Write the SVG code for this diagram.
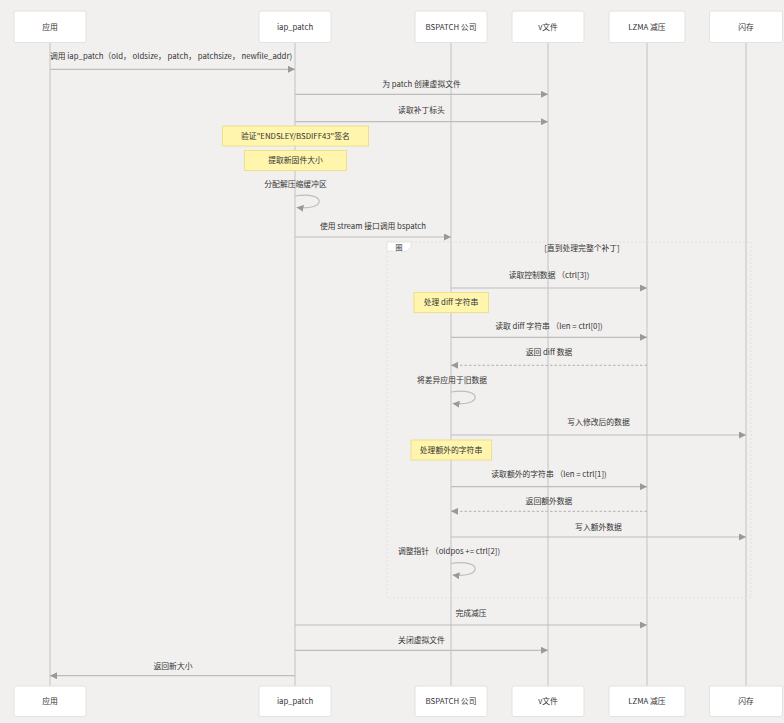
<svg xmlns="http://www.w3.org/2000/svg" width="784" height="723" viewBox="0 0 784 723">
<style>
text{font-family:"Noto Sans CJK SC","Noto Sans",sans-serif;font-size:7.8px;fill:#333;text-anchor:middle}
.actor{fill:#fff;stroke:#e2e2e2;stroke-width:1}
.life{stroke:#d2d2d2;stroke-width:1.5}
.msg{stroke:#bdbdbd;stroke-width:1.2;fill:none}
.dash{stroke:#bdbdbd;stroke-width:1.2;fill:none;stroke-dasharray:2.5,2}
.note{fill:#fff5ad;stroke:#ece08a;stroke-width:1}
.loop{fill:none;stroke:#e0e0e0;stroke-width:1;stroke-dasharray:2,2}
</style>
<defs>
<marker id="ah" viewBox="0 0 10 10" refX="10" refY="5" markerWidth="7" markerHeight="7" markerUnits="userSpaceOnUse" orient="auto">
<path d="M0,0 L10,5 L0,10 z" fill="#999"/>
</marker>
</defs>
<rect width="784" height="723" fill="#f2f0ef"/>
<g id="lifelines">
<line class="life" x1="50" y1="42" x2="50" y2="686"/>
<line class="life" x1="295" y1="42" x2="295" y2="686"/>
<line class="life" x1="451" y1="42" x2="451" y2="686"/>
<line class="life" x1="548" y1="42" x2="548" y2="686"/>
<line class="life" x1="647" y1="42" x2="647" y2="686"/>
<line class="life" x1="746" y1="42" x2="746" y2="686"/>
</g>
<g id="actor-app"><rect class="actor" x="14" y="11" width="72" height="31.5" rx="2"/><text x="50" y="29.5">应用</text><rect class="actor" x="14" y="686" width="72" height="30.5" rx="2"/><text x="50" y="704">应用</text></g>
<g id="actor-iap"><rect class="actor" x="259" y="11" width="72" height="31.5" rx="2"/><text x="295" y="29.5">iap_patch</text><rect class="actor" x="259" y="686" width="72" height="30.5" rx="2"/><text x="295" y="704">iap_patch</text></g>
<g id="actor-bspatch"><rect class="actor" x="415" y="11" width="72" height="31.5" rx="2"/><text x="451" y="29.5">BSPATCH 公司</text><rect class="actor" x="415" y="686" width="72" height="30.5" rx="2"/><text x="451" y="704">BSPATCH 公司</text></g>
<g id="actor-vfile"><rect class="actor" x="512" y="11" width="72" height="31.5" rx="2"/><text x="548" y="29.5">v文件</text><rect class="actor" x="512" y="686" width="72" height="30.5" rx="2"/><text x="548" y="704">v文件</text></g>
<g id="actor-lzma"><rect class="actor" x="609" y="11" width="76" height="31.5" rx="2"/><text x="647" y="29.5">LZMA 减压</text><rect class="actor" x="609" y="686" width="76" height="30.5" rx="2"/><text x="647" y="704">LZMA 减压</text></g>
<g id="actor-flash"><rect class="actor" x="709.5" y="11" width="73" height="31.5" rx="2"/><text x="746" y="29.5">闪存</text><rect class="actor" x="709.5" y="686" width="73" height="30.5" rx="2"/><text x="746" y="704">闪存</text></g>
<g id="loop-block">
<rect class="loop" x="387" y="242" width="364" height="356"/>
<path d="M387,242 H411 V247 L407,251 H387 Z" fill="#fff" stroke="#e0e0e0" stroke-width="0.8"/>
<text x="399" y="249.5" style="font-size:7px">圈</text>
<text x="582" y="251">[直到处理完整个补丁]</text>
</g>
<g id="notes">
<g id="note-verify"><rect class="note" x="222.5" y="126" width="146" height="20"/><text x="295.5" y="138.8">验证"ENDSLEY/BSDIFF43"签名</text></g>
<g id="note-size"><rect class="note" x="244.5" y="150.5" width="102" height="20"/><text x="295.5" y="163.3">提取新固件大小</text></g>
<g id="note-diff"><rect class="note" x="414" y="292.5" width="74.5" height="20"/><text x="451" y="305.3">处理 diff 字符串</text></g>
<g id="note-extra"><rect class="note" x="411" y="440" width="80.5" height="20"/><text x="451" y="452.8">处理额外的字符串</text></g>
</g>
<g id="connectors">
<line class="msg" x1="50" y1="69.3" x2="295" y2="69.3" marker-end="url(#ah)"/>
<text x="171" y="59">调用 iap_patch（old， oldsize， patch， patchsize， newfile_addr)</text>
<line class="msg" x1="295" y1="94.3" x2="548" y2="94.3" marker-end="url(#ah)"/>
<text x="421.5" y="87">为 patch 创建虚拟文件</text>
<line class="msg" x1="295" y1="121.7" x2="548" y2="121.7" marker-end="url(#ah)"/>
<text x="421.5" y="113">读取补丁标头</text>
<path class="msg" d="M295,196 C327,191 327,211 296.5,207.5" marker-end="url(#ah)"/>
<text x="295.5" y="187">分配解压缩缓冲区</text>
<line class="msg" x1="295" y1="237" x2="451" y2="237" marker-end="url(#ah)"/>
<text x="373" y="229">使用 stream 接口调用 bspatch</text>
<line class="msg" x1="451" y1="288" x2="647" y2="288" marker-end="url(#ah)"/>
<text x="549" y="278">读取控制数据 （ctrl[3])</text>
<line class="msg" x1="451" y1="337.3" x2="647" y2="337.3" marker-end="url(#ah)"/>
<text x="549" y="329">读取 diff 字符串 （len = ctrl[0])</text>
<line class="dash" x1="647" y1="365.3" x2="451" y2="365.3" marker-end="url(#ah)"/>
<text x="549" y="355">返回 diff 数据</text>
<path class="msg" d="M451,392 C483,387 483,407 452.5,403.5" marker-end="url(#ah)"/>
<text x="452" y="383">将差异应用于旧数据</text>
<line class="msg" x1="451" y1="435" x2="746" y2="435" marker-end="url(#ah)"/>
<text x="598.5" y="425">写入修改后的数据</text>
<line class="msg" x1="451" y1="486.7" x2="647" y2="486.7" marker-end="url(#ah)"/>
<text x="549" y="477">读取额外的字符串 （len = ctrl[1])</text>
<line class="dash" x1="647" y1="511.3" x2="451" y2="511.3" marker-end="url(#ah)"/>
<text x="549" y="504">返回额外数据</text>
<line class="msg" x1="451" y1="537" x2="746" y2="537" marker-end="url(#ah)"/>
<text x="598.5" y="529.5">写入额外数据</text>
<path class="msg" d="M451,563.5 C483,558.5 483,578.5 452.5,575" marker-end="url(#ah)"/>
<text x="449" y="554">调整指针 （oldpos += ctrl[2])</text>
<line class="msg" x1="295" y1="625" x2="647" y2="625" marker-end="url(#ah)"/>
<text x="471" y="616">完成减压</text>
<line class="msg" x1="295" y1="650.3" x2="548" y2="650.3" marker-end="url(#ah)"/>
<text x="421.5" y="642.5">关闭虚拟文件</text>
<line class="msg" x1="295" y1="675.7" x2="50" y2="675.7" marker-end="url(#ah)"/>
<text x="173" y="668.5">返回新大小</text>
</g>
</svg>
